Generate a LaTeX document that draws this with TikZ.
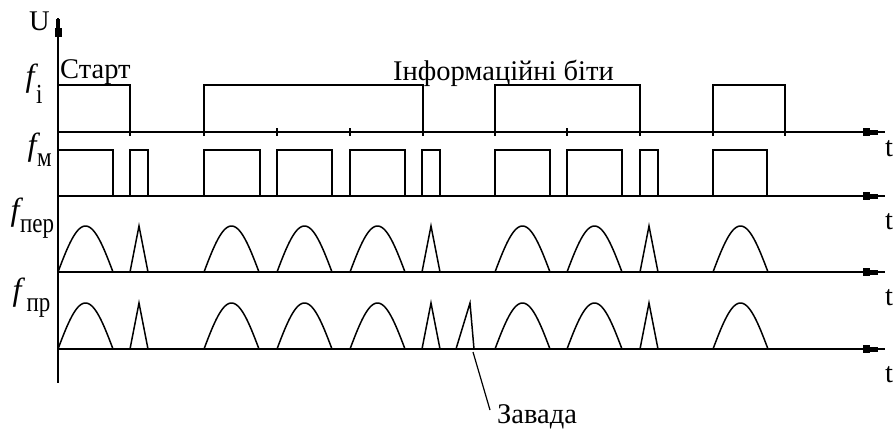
\documentclass[tikz,border=0pt]{standalone}
\usepackage{fontspec}
\setmainfont{Liberation Serif}
\newcommand\subf[1]{\scalebox{1}[1.2]{\fontsize{23}{25}\selectfont #1}}
\newcommand\ff{{\fontsize{32}{34}\selectfont\itshape f}}
\newcommand\mybump[2]{\draw[wave] plot[domain=0:180,samples=37] ({#1+55*\x/180},{#2-46*sin(\x)});}
\newcommand\myspike[2]{\draw[wave] (#1,#2) -- (#1+9,#2-46) -- (#1+18,#2);}
\begin{document}
\begin{tikzpicture}[x=1pt,y=-1pt,
  wave/.style={line width=1.5pt, line join=miter},
  axisline/.style={line width=1.5pt},
  lbl/.style={font=\fontsize{28.5}{30}\selectfont, inner sep=0pt, anchor=base west},
  harr/.pic={\fill (-22,-4) rectangle (-15,4); \fill (-15,-2.5) rectangle (-7,2.5);}]
\useasboundingbox[fill=white] (0,0) rectangle (894,432);
% vertical axis
\draw[axisline] (58,18) -- (58,383);
\fill (54.5,28) rectangle (61.5,37);
\fill (56,19) rectangle (60,28);
% horizontal axes
\foreach \b in {132,196,272,349}{
  \draw[axisline] (58,\b) -- (885,\b);
  \pic at (885,\b) {harr};
}
% labels
\node[lbl] (U) at (29,30) {U};
\node[lbl] (start) at (60,78) {Старт};
\node[lbl] (info) at (393,80) {Інформаційні біти};
\node[lbl] (noise) at (497,423) {Завада};
\node[lbl] (t1) at (885,156) {t};
\node[lbl] (t2) at (885,229) {t};
\node[lbl] (t3) at (885,305) {t};
\node[lbl] (t4) at (885,382) {t};
\node[lbl] (fi) at (25.5,86) {\ff\kern1.5pt\raisebox{-17pt}{\subf{i}}};
\node[lbl] (fm) at (27.5,155) {\ff\kern0.5pt\raisebox{-11pt}{\subf{м}}};
\node[lbl] (fper) at (10.5,220) {\ff\kern0.5pt\raisebox{-12pt}{\subf{пер}}};
\node[lbl] (fpr) at (12.5,300) {\ff\kern5pt\raisebox{-11pt}{\subf{пр}}};
% f_i waveform
\draw[wave] (58,85) -- (130,85) -- (130,136);
\draw[wave] (204,136) -- (204,85) -- (423,85) -- (423,136);
\draw[wave] (495,136) -- (495,85) -- (640,85) -- (640,136);
\draw[wave] (713,136) -- (713,85) -- (785,85) -- (785,136);
\foreach \s in {277,350,567}{\draw[wave] (\s,128) -- (\s,136);}
% f_m waveform
\foreach \s/\e in {58/113,130/148,204/260,277/332,350/405,422/440,495/550,567/622,640/658,713/767}{
  \draw[wave] (\s,196) -- (\s,150) -- (\e,150) -- (\e,196);
}
% f_per and f_pr
\foreach \base in {272,349}{
  \foreach \s in {58,204,277,350,495,567,713}{\mybump{\s}{\base}}
  \foreach \s in {130,422,640}{\myspike{\s}{\base}}
}
% noise pulse
\draw[wave] (456,349) -- (470,303) -- (474,349);
\coordinate (nz) at (473,352);
\draw[line width=1.2pt] (nz) -- (490,410);
\end{tikzpicture}
\end{document}
